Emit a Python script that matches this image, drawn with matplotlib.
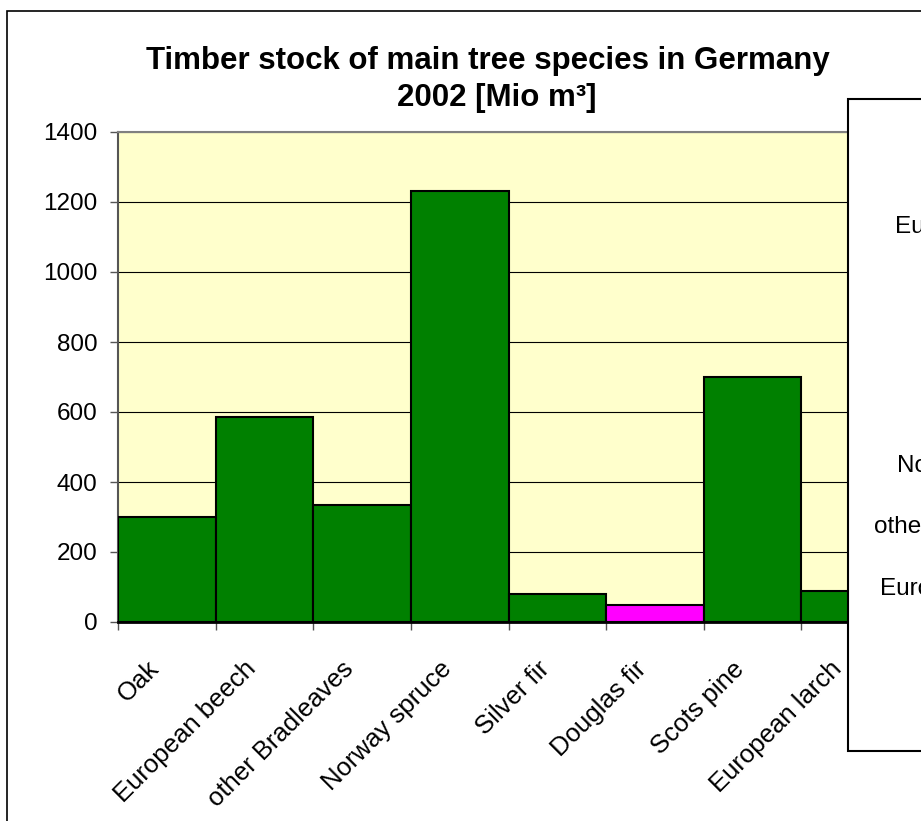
import matplotlib
matplotlib.use("Agg")
import matplotlib.pyplot as plt
from matplotlib.patches import Rectangle
from matplotlib.transforms import offset_copy
import numpy as np

species = ["Oak", "European beech", "other Bradleaves", "Norway spruce",
           "Silver fir", "Douglas fir", "Scots pine", "European larch"]
stock = [300, 585, 335, 1230, 80, 50, 700, 90]
bar_colors = ["#008000", "#008000", "#008000", "#008000",
              "#008000", "#FF00FF", "#008000", "#008000"]
y_ticks = [0, 200, 400, 600, 800, 1000, 1200, 1400]

# side panel labels (partly outside the figure)
panel_labels = ["European beech", "Norway spruce", "other Bradleaves", "European larch"]

W, H = 921, 821
plt.rcParams["font.family"] = ["Liberation Sans", "DejaVu Sans"]
fig = plt.figure(figsize=(W / 100, H / 100), dpi=100)
fig.patch.set_facecolor("white")

# chart area frame
fig.add_artist(Rectangle((7 / W, -0.2), 1.5, 1.2 - 11 / H, transform=fig.transFigure,
                         fill=False, edgecolor="black", linewidth=1.2, zorder=0))

left, right, top, bottom = 118, 899, 132, 622
ax = fig.add_axes([left / W, 1 - bottom / H, (right - left) / W, (bottom - top) / H])
ax.set_facecolor("#FFFFCC")

x = np.arange(len(species))
ax.bar(x, stock, width=1.0, color=bar_colors, edgecolor="black", linewidth=1.5, zorder=3)

ax.set_xlim(-0.5, len(species) - 0.5)
ax.set_ylim(0, 1400)
ax.set_yticks(y_ticks)
ax.set_yticklabels([str(v) for v in y_ticks], fontsize=17.5)
ax.yaxis.grid(True, color="black", linewidth=0.8, zorder=1)
ax.set_axisbelow(True)
ax.tick_params(axis="y", length=6, width=1, color="#555555", pad=9)

# tick marks at category boundaries
ax.set_xticks(np.arange(-0.5, len(species), 1.0))
ax.set_xticklabels([])
ax.tick_params(axis="x", length=6, width=1, color="#555555")

# rotated category labels ending just below each bar centre
label_tr = offset_copy(ax.get_xaxis_transform(), fig=fig, x=-12, y=-43, units="dots")
for xi, name in zip(x, species):
    ax.text(xi, 0, name, transform=label_tr, rotation=45, rotation_mode="anchor",
            ha="right", va="center", fontsize=18.5, clip_on=False)

for s in ["top", "right"]:
    ax.spines[s].set_color("#808080")
    ax.spines[s].set_linewidth(1.5)
ax.spines["left"].set_color("#555555")
ax.spines["left"].set_linewidth(1.5)
ax.spines["bottom"].set_color("black")
ax.spines["bottom"].set_linewidth(2)

# title
fig.text(488 / W, 1 - 61 / H, "Timber stock of main tree species in Germany",
         ha="center", va="center", fontsize=22.5, fontweight="bold")
fig.text(497 / W, 1 - 98 / H, "2002 [Mio m³]",
         ha="center", va="center", fontsize=22.5, fontweight="bold")

# overlapping side panel
fig.add_artist(Rectangle((848 / W, 1 - 751 / H), 0.5, (751 - 99) / H,
                         transform=fig.transFigure, facecolor="white",
                         edgecolor="black", linewidth=1.5, zorder=10))
for (px, py), label in zip([(895, 227), (897, 466), (874, 527), (880, 589)], panel_labels):
    fig.text(px / W, 1 - py / H, label, ha="left", va="center", fontsize=17.5, zorder=11)

fig.savefig("out.png", dpi=100)
